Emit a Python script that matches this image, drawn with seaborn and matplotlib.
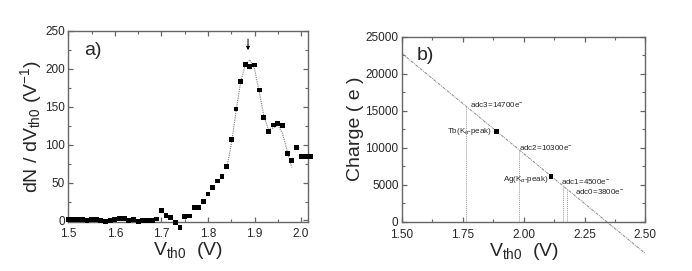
import numpy as np
import pandas as pd
import seaborn as sns
import matplotlib
matplotlib.use("Agg")
import matplotlib.pyplot as plt
from matplotlib.ticker import MultipleLocator

# panel a) measured dN/dV points
v_a = [1.50, 1.51, 1.52, 1.53, 1.54, 1.55, 1.56, 1.57, 1.58, 1.59,
       1.60, 1.61, 1.62, 1.63, 1.64, 1.65, 1.66, 1.67, 1.68, 1.69,
       1.70, 1.71, 1.72, 1.73, 1.74, 1.75, 1.76, 1.77, 1.78, 1.79,
       1.80, 1.81, 1.82, 1.83, 1.84, 1.85, 1.86, 1.87, 1.88, 1.89,
       1.90, 1.91, 1.92, 1.93, 1.94, 1.95, 1.96, 1.97, 1.98, 1.99,
       2.00, 2.01, 2.02]
dn_a = [1, 1, 1, 1, 0.5, 1, 1, 0, -1, 0,
        1, 3, 3, 0, 1, -1, 0, 0, 0, 2,
        13, 7, 4, -3, -9, 5, 6, 17, 17, 25,
        35, 43, 52, 58, 71, 107, 147, 183, 206, 203,
        205, 172, 136, 117, 126, 128, 125, 88, 79, 96,
        84, 84, 84]

# panel a) fitted curve (read off the picture)
v_fit = [1.84, 1.85, 1.86, 1.87, 1.88, 1.89, 1.90, 1.91, 1.92, 1.93,
         1.94, 1.95, 1.96, 1.97, 1.98]
dn_fit = [68, 100, 143, 182, 205, 212, 200, 170, 138, 120,
          122, 126, 115, 92, 70]

# panel b) calibration line, peaks and thresholds
v_line = [1.50, 2.50]
q_line = [22700, -4300]
peak_names = [r'Tb(K$_{\alpha}$-peak)', r'Ag(K$_{\alpha}$-peak)']
v_peak = [1.889, 2.112]
q_peak = [12200, 6120]
adc_names = [r'adc3=14700e$^{-}$', r'adc2=10300e$^{-}$',
             r'adc1=4500e$^{-}$', r'adc0=3800e$^{-}$']
v_adc = [1.764, 1.982, 2.160, 2.178]

sns.set_style("ticks")
plt.rcParams['font.family'] = ['Liberation Sans', 'DejaVu Sans']
plt.rcParams['mathtext.fontset'] = 'custom'
plt.rcParams['mathtext.rm'] = 'Liberation Sans'
plt.rcParams['mathtext.it'] = 'Liberation Sans:italic'

spine_col = '#666666'

fig = plt.figure(figsize=(6.92, 2.71), dpi=100)
ax1 = fig.add_axes([0.0987, 0.1808, 0.3465, 0.705])
ax2 = fig.add_axes([0.581, 0.182, 0.3516, 0.683])

def style_axis(ax, xpad=4):
    for s in ax.spines.values():
        s.set_color(spine_col)
        s.set_linewidth(1.0)
    ax.tick_params(which='both', direction='in', top=True, right=True,
                   color=spine_col, labelsize=8.5)
    ax.tick_params(axis='x', pad=xpad)
    ax.tick_params(axis='y', pad=2.5)
    ax.tick_params(which='major', length=3.5, width=0.9)
    ax.tick_params(which='minor', length=2, width=0.8)

# ---- panel a)
df_a = pd.DataFrame({'v': v_a, 'dn': dn_a})
df_fit = pd.DataFrame({'v': v_fit, 'dn': dn_fit})
sns.lineplot(data=df_fit, x='v', y='dn', ax=ax1, color='#777777',
             linestyle=(0, (1, 1)), linewidth=0.8, sort=False)
sns.scatterplot(data=df_a, x='v', y='dn', ax=ax1, marker='s', s=12,
                color='black', edgecolor='none', clip_on=False, zorder=3)
ax1.annotate('', xy=(1.886, 221), xytext=(1.886, 243),
             arrowprops=dict(arrowstyle='-|>', color='black', lw=0.7,
                             mutation_scale=5))
ax1.set_xlim(1.5, 2.015)
ax1.set_ylim(-2, 250)
ax1.xaxis.set_major_locator(MultipleLocator(0.1))
ax1.xaxis.set_minor_locator(MultipleLocator(0.05))
ax1.yaxis.set_major_locator(MultipleLocator(50))
ax1.yaxis.set_minor_locator(MultipleLocator(25))
ax1.set_xticks([1.5, 1.6, 1.7, 1.8, 1.9, 2.0])
ax1.set_xticklabels(['1.5', '1.6', '1.7', '1.8', '1.9', '2.0'])
style_axis(ax1)
ax1.set_xlabel(r'V$_{\mathrm{th0}}$  (V)', fontsize=14, labelpad=0)
ax1.set_ylabel(r'dN / dV$_{\mathrm{th0}}$ (V$^{\mathrm{-1}}$)', fontsize=14, labelpad=1)
ax1.text(0.065, 0.9, 'a)', transform=ax1.transAxes, fontsize=14, va='center')

# ---- panel b)
df_line = pd.DataFrame({'v': v_line, 'q': q_line})
df_peak = pd.DataFrame({'v': v_peak, 'q': q_peak})
sns.lineplot(data=df_line, x='v', y='q', ax=ax2, color='#888888',
             linestyle=(0, (3, 1, 1, 1)), linewidth=0.7)
ax2.lines[-1].set_clip_on(False)
slope = (q_line[1] - q_line[0]) / (v_line[1] - v_line[0])
for v in v_adc:
    ax2.plot([v, v], [0, q_line[0] + slope * (v - v_line[0])],
             color='#999999', linestyle=(0, (1, 1)), linewidth=0.7)
sns.scatterplot(data=df_peak, x='v', y='q', ax=ax2, marker='s', s=12,
                color='black', edgecolor='none', zorder=3)

fs_note = 5.8
ax2.text(1.78, 15800, adc_names[0], fontsize=fs_note, va='center', ha='left')
ax2.text(1.982, 10000, adc_names[1], fontsize=fs_note, va='center', ha='left')
ax2.text(2.153, 5450, adc_names[2], fontsize=fs_note, va='center', ha='left')
ax2.text(2.212, 4100, adc_names[3], fontsize=fs_note, va='center', ha='left')
ax2.text(1.868, 12200, peak_names[0], fontsize=fs_note, va='center', ha='right')
ax2.text(2.101, 5700, peak_names[1], fontsize=fs_note, va='center', ha='right')

ax2.set_xlim(1.5, 2.5)
ax2.set_ylim(0, 25000)
ax2.xaxis.set_major_locator(MultipleLocator(0.25))
ax2.xaxis.set_minor_locator(MultipleLocator(0.125))
ax2.yaxis.set_major_locator(MultipleLocator(5000))
ax2.yaxis.set_minor_locator(MultipleLocator(2500))
ax2.set_xticks([1.5, 1.75, 2.0, 2.25, 2.5])
ax2.set_xticklabels(['1.50', '1.75', '2.00', '2.25', '2.50'])
style_axis(ax2, xpad=5)
ax2.set_xlabel(r'V$_{\mathrm{th0}}$  (V)', fontsize=14, labelpad=0)
ax2.set_ylabel('Charge ( e )', fontsize=14, labelpad=1)
ax2.text(0.06, 0.9, 'b)', transform=ax2.transAxes, fontsize=14, va='center')

fig.savefig('out.png', dpi=100)
